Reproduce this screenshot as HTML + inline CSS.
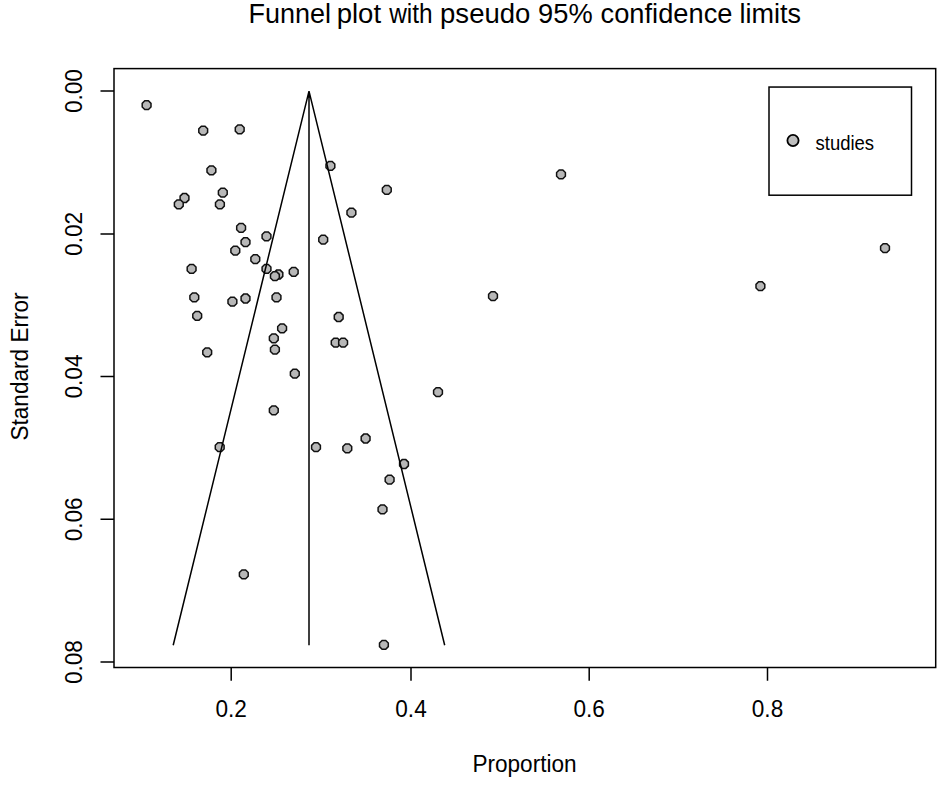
<!DOCTYPE html>
<html><head><meta charset="utf-8"><style>
html,body{margin:0;padding:0;background:#fff;}
svg{display:block;}
text{font-family:"Liberation Sans",sans-serif;fill:#000;}
</style></head><body>
<svg width="945" height="797" viewBox="0 0 945 797">
<rect width="945" height="797" fill="#fff"/>
<g font-size="27"><text transform="translate(248.50 23.4) scale(1.0 1.035)">Funnel</text><text transform="translate(336.65 23.4) scale(1.02 1.035)">plot</text><text transform="translate(389.15 23.4) scale(0.905 1.035)">with</text><text transform="translate(440.05 23.4) scale(1.02 1.035)">pseudo</text><text transform="translate(538.08 23.4) scale(1.01 1.035)">95%</text><text transform="translate(600.59 23.4) scale(1.01 1.035)">confidence</text><text transform="translate(739.50 23.4) scale(1.0 1.035)">limits</text></g>
<defs><path id="o" d="M4.400 -1.823L4.400 1.823L1.823 4.400L-1.823 4.400L-4.400 1.823L-4.400 -1.823L-1.823 -4.400L1.823 -4.400Z"/></defs>
<g fill="#b8b8b8" stroke="#111" stroke-width="1.5">
<use href="#o" x="146.6" y="105.2"/>
<use href="#o" x="203.2" y="130.6"/>
<use href="#o" x="239.7" y="129.3"/>
<use href="#o" x="211.4" y="170.3"/>
<use href="#o" x="222.8" y="192.6"/>
<use href="#o" x="219.9" y="204.3"/>
<use href="#o" x="184.5" y="198.0"/>
<use href="#o" x="178.8" y="204.3"/>
<use href="#o" x="241.1" y="227.9"/>
<use href="#o" x="266.5" y="236.4"/>
<use href="#o" x="245.5" y="242.2"/>
<use href="#o" x="235.3" y="250.6"/>
<use href="#o" x="255.3" y="259.1"/>
<use href="#o" x="266.5" y="268.9"/>
<use href="#o" x="278.4" y="274.5"/>
<use href="#o" x="274.9" y="276.2"/>
<use href="#o" x="293.7" y="271.8"/>
<use href="#o" x="191.6" y="268.9"/>
<use href="#o" x="194.3" y="297.4"/>
<use href="#o" x="232.4" y="301.6"/>
<use href="#o" x="245.5" y="298.5"/>
<use href="#o" x="276.5" y="297.4"/>
<use href="#o" x="197.2" y="315.8"/>
<use href="#o" x="207.2" y="352.3"/>
<use href="#o" x="282.1" y="328.3"/>
<use href="#o" x="273.8" y="338.3"/>
<use href="#o" x="274.9" y="349.6"/>
<use href="#o" x="273.8" y="410.4"/>
<use href="#o" x="219.7" y="447.1"/>
<use href="#o" x="243.8" y="574.4"/>
<use href="#o" x="383.9" y="644.8"/>
<use href="#o" x="330.4" y="165.9"/>
<use href="#o" x="386.8" y="189.9"/>
<use href="#o" x="351.4" y="212.6"/>
<use href="#o" x="323.2" y="239.6"/>
<use href="#o" x="338.7" y="317.0"/>
<use href="#o" x="335.7" y="342.6"/>
<use href="#o" x="343.1" y="342.6"/>
<use href="#o" x="294.8" y="373.7"/>
<use href="#o" x="316.0" y="447.2"/>
<use href="#o" x="347.3" y="448.4"/>
<use href="#o" x="365.6" y="438.5"/>
<use href="#o" x="404.0" y="464.0"/>
<use href="#o" x="389.6" y="479.6"/>
<use href="#o" x="382.5" y="509.4"/>
<use href="#o" x="561.0" y="174.4"/>
<use href="#o" x="493.0" y="296.1"/>
<use href="#o" x="438.0" y="392.1"/>
<use href="#o" x="760.4" y="286.2"/>
<use href="#o" x="885.0" y="248.1"/>
</g>
<g fill="none" stroke="#000" stroke-width="1.5">
<path d="M309 91.1L173.2 645.2M309 91.1L444.7 645.2M309 91.1V645.2"/>
<rect x="114" y="68.6" width="821.7" height="598.9"/>
<path d="M100.5 91.1H114M100.5 233.9H114M100.5 376.5H114M100.5 519.3H114M100.5 662.1H114M231.2 667.5V680.8M411.0 667.5V680.8M589.2 667.5V680.8M767.5 667.5V680.8"/>
<rect x="769" y="87.05" width="142.5" height="108.15"/>
</g>
<g font-size="22.6">
<text transform="translate(81.8 91.1) rotate(-90) scale(1 1.07)" text-anchor="middle">0.00</text>
<text transform="translate(81.8 233.9) rotate(-90) scale(1 1.07)" text-anchor="middle">0.02</text>
<text transform="translate(81.8 376.5) rotate(-90) scale(1 1.07)" text-anchor="middle">0.04</text>
<text transform="translate(81.8 519.3) rotate(-90) scale(1 1.07)" text-anchor="middle">0.06</text>
<text transform="translate(81.8 662.1) rotate(-90) scale(1 1.07)" text-anchor="middle">0.08</text>
<text transform="translate(231.2 716.6) scale(1 1.07)" text-anchor="middle">0.2</text>
<text transform="translate(411.0 716.6) scale(1 1.07)" text-anchor="middle">0.4</text>
<text transform="translate(589.2 716.6) scale(1 1.07)" text-anchor="middle">0.6</text>
<text transform="translate(767.5 716.6) scale(1 1.07)" text-anchor="middle">0.8</text>
<text transform="translate(524.5 771.8) scale(1 1.07)" text-anchor="middle">Proportion</text>
<text transform="translate(28 366.5) rotate(-90) scale(1 1.07)" text-anchor="middle">Standard Error</text>
</g>
<circle cx="793.0" cy="140.5" r="5.6" fill="#bebebe" stroke="#000" stroke-width="1.8"/>
<text transform="translate(815.5 149.6) scale(1 1.06)" font-size="18.5">studies</text>
</svg>
</body></html>
